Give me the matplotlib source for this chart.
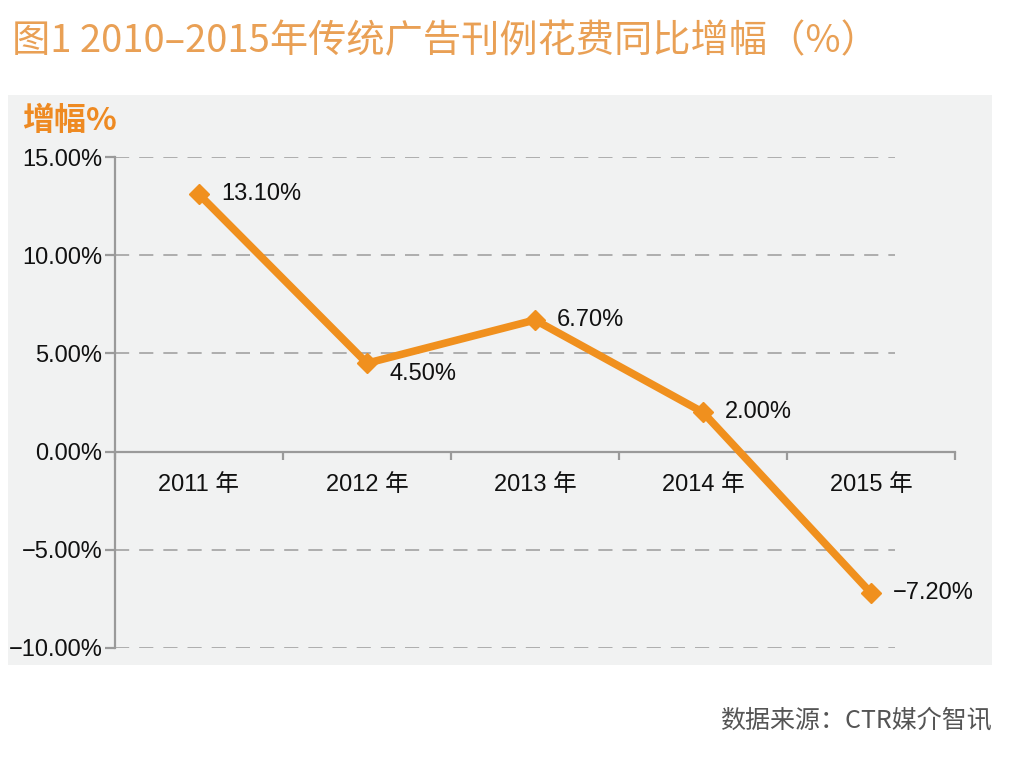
import matplotlib
matplotlib.use("Agg")
import matplotlib.pyplot as plt
from matplotlib.patches import Rectangle
from matplotlib.ticker import FixedLocator, FuncFormatter

plt.rcParams['font.family'] = ['Liberation Sans', 'Noto Sans CJK SC', 'DejaVu Sans']
plt.rcParams['axes.unicode_minus'] = False

# data
years = ["2011 年", "2012 年", "2013 年", "2014 年", "2015 年"]
growth = [13.10, 4.50, 6.70, 2.00, -7.20]
label_text = ["13.10%", "4.50%", "6.70%", "2.00%", "\u22127.20%"]
y_ticks = [-10, -5, 0, 5, 10, 15]

ORANGE = "#F0901E"
GRAY = "#9A9A9A"

fig = plt.figure(figsize=(10.2, 7.73), dpi=100)
fig.patch.set_facecolor("white")

# gray panel behind the chart
fig.patches.append(Rectangle((8 / 1020, 1 - 665 / 773), 984 / 1020, 570 / 773,
                             transform=fig.transFigure, facecolor="#F1F2F2",
                             edgecolor="none", zorder=-5))

ax = fig.add_axes([115 / 1020, 1 - 648 / 773, 840 / 1020, 491 / 773])
ax.set_facecolor("none")

x = list(range(len(years)))
ax.set_xlim(-0.5, len(years) - 0.5)
ax.set_ylim(y_ticks[0], y_ticks[-1])

# dashed grid lines (stop short of the right end like the original)
for yv in y_ticks:
    if yv == 0:
        continue
    ax.hlines(yv, -0.5, 4.14, colors="#A2A2A2", linestyles=(0, (8.5, 6)),
              linewidth=1.2, zorder=1)

ax.plot(x, growth, color=ORANGE, linewidth=5.5, marker="D", markersize=10,
        markerfacecolor=ORANGE, markeredgecolor=ORANGE, zorder=3,
        solid_joinstyle="round")

offsets = [(16, 0), (16, -8), (16, 0), (16, 0), (16, 0)]
for xi, yi, txt, off in zip(x, growth, label_text, offsets):
    ax.annotate(txt, (xi, yi), xytext=off, textcoords="offset points",
                ha="left", va="center", fontsize=17, color="#111111", zorder=4)

for s in ["top", "right"]:
    ax.spines[s].set_visible(False)
ax.spines["bottom"].set_position(("data", 0))
ax.spines["bottom"].set_color(GRAY)
ax.spines["bottom"].set_linewidth(1.6)
ax.spines["left"].set_color(GRAY)
ax.spines["left"].set_linewidth(1.6)

ax.yaxis.set_major_locator(FixedLocator(y_ticks))
ax.yaxis.set_major_formatter(FuncFormatter(
    lambda v, p: ("\u2212%.2f%%" % abs(v)) if v < 0 else ("%.2f%%" % v)))
ax.tick_params(axis="y", direction="out", length=7, width=1.6, color=GRAY,
               labelsize=17, labelcolor="#111111", pad=2)

ax.set_xticks(x)
ax.set_xticklabels(years)
ax.set_xticks([i - 0.5 for i in range(len(years) + 1)], minor=True)
ax.tick_params(axis="x", which="major", length=0, pad=16, labelsize=17,
               labelcolor="#111111")
ax.tick_params(axis="x", which="minor", direction="out", length=6, width=1.6,
               color=GRAY)

fig.text(12 / 1020, 1 - 42 / 773, "图1 2010–2015年传统广告刊例花费同比增幅（%）",
         fontsize=27.5, color="#E9A055", ha="left", va="center",
         family=['Noto Sans CJK SC', 'DejaVu Sans'])
fig.text(22 / 1020, 1 - 121 / 773, "增幅%", fontsize=23, fontweight="bold",
         color="#EE8A22", ha="left", va="center",
         family=['Noto Sans CJK SC', 'DejaVu Sans'])
fig.text(992 / 1020, 1 - 720 / 773, "数据来源：CTR媒介智讯", fontsize=18,
         color="#555555", ha="right", va="center",
         family=['Noto Sans CJK SC', 'DejaVu Sans'])

fig.savefig("out.png", dpi=100)
